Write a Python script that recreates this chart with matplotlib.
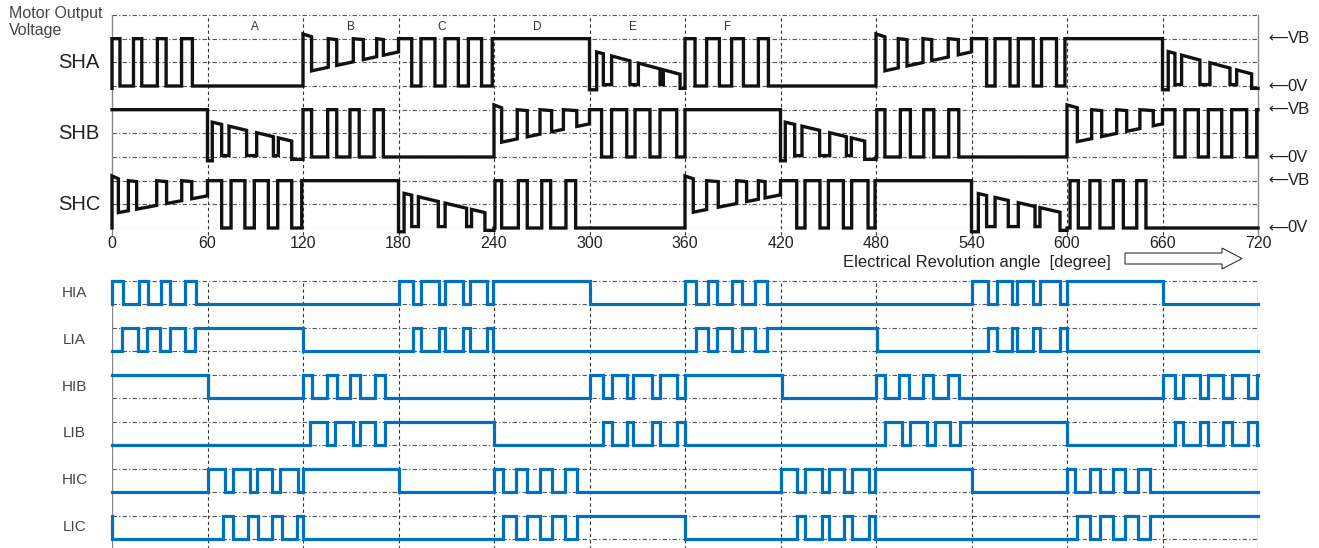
import matplotlib
matplotlib.use("Agg")
import matplotlib.pyplot as plt
from matplotlib.patches import Polygon

plt.rcParams["font.family"] = ["Liberation Sans", "DejaVu Sans"]

W, H = 1319, 548

angle_ticks = list(range(0, 721, 60))
sector_names = ["A", "B", "C", "D", "E", "F"]
sector_name_x = [90, 150, 207, 267, 327, 387]

# ---- motor output voltage, level 0 = 0V, 1 = VB ----
# kind of each 60 deg sector: P = pwm, H = VB, L = 0V, R / F = floating rising / falling
sha_kind = "PLRPHFPLRPHF"
shb_kind = "HFPLRPHFPLRP"
shc_kind = "RPHFPLRPHFPL"

# high intervals of the pwm sectors
sha_pwm = {
    0: [(0, 5), (13.5, 18.7), (28.5, 34), (43.7, 50.5)],
    180: [(180, 188.3), (194.1, 202.9), (209.2, 217.6), (223.9, 232.2), (238.9, 240)],
    360: [(360, 366.3), (373.6, 381.6), (389.3, 396.7), (406.1, 412.4)],
    540: [(540, 549.5), (554.8, 564.2), (569.4, 578.8), (584, 593.4), (598.7, 600)],
}
shb_pwm = {
    120: [(120, 125.4), (135.5, 141.2), (149.5, 155.3), (164.7, 170.5)],
    300: [(300, 307.6), (313.9, 323.4), (328.6, 338), (344.3, 354.8)],
    480: [(480.5, 485.6), (495.3, 501.6), (510, 516.3), (525.7, 532)],
    660: [(660, 667.8), (674.1, 682.5), (688.8, 697.2), (703.5, 712.9), (719.2, 720)],
}
shc_pwm = {
    60: [(60, 68.9), (74.8, 83.5), (89.4, 98.2), (104.1, 112.9), (119.2, 120)],
    240: [(240.6, 244.8), (255.3, 260.9), (270, 275.6), (285.2, 291.3)],
    420: [(420, 430.2), (435.4, 444.8), (450.1, 459.5), (464.7, 475), (479.4, 480)],
    600: [(601.9, 607.1), (614.4, 620.7), (629.1, 635.4), (643.8, 649.6)],
}

# floating sectors: pulse intervals (tops for R, bottoms for F), ramp start / end level
sha_float = {
    120: ([(120, 125.4), (135.9, 141.2), (151.6, 157.9), (166.3, 170.5)], 0.28, 0.72),
    300: ([(300, 304.5), (308.7, 313.9), (325.4, 330.7), (344.3, 346.4), (356.9, 360)], 0.76, 0.22),
    480: ([(480, 485.6), (494, 499.5), (509.5, 515), (525.4, 531.7)], 0.28, 0.72),
    660: ([(660, 663.6), (667.8, 672), (683.5, 689.8), (702.4, 706.6), (716, 720)], 0.76, 0.22),
}
shb_float = {
    60: ([(60, 63), (68.9, 73.5), (84.6, 90.9), (101.4, 104.5), (112.9, 120)], 0.76, 0.28),
    240: ([(240, 244.8), (254.6, 260.9), (268.9, 276.2), (283.6, 292)], 0.28, 0.7),
    420: ([(420, 423), (428.9, 433.5), (444.6, 450.9), (461.4, 464.5), (472.9, 480)], 0.76, 0.28),
    600: ([(600, 606.5), (615.5, 621.8), (631.2, 637.5), (645.8, 654.2)], 0.28, 0.7),
}
shc_float = {
    0: ([(0, 4), (10.3, 15.5), (28.1, 34.3), (43.8, 50.1)], 0.3, 0.68),
    180: ([(180, 183.5), (188.3, 192.5), (205, 209.3), (222.8, 225.9), (234.3, 240)], 0.76, 0.28),
    360: ([(360, 365.2), (373.6, 380.9), (392.5, 398.7), (406.1, 410.3)], 0.3, 0.7),
    540: ([(540, 544.3), (549.5, 554.8), (563.1, 569.4), (579.9, 583), (595.6, 600)], 0.76, 0.3),
}

top_names = ["SHA", "SHB", "SHC"]

# ---- gate signals: level at 0 deg and switching angles ----
gate_names = ["HIA", "LIA", "HIB", "LIB", "HIC", "LIC"]
gate_start = [1, 0, 1, 0, 0, 0]
hia_edges = [7, 16.8, 22.8, 30.6, 36.4, 45.9, 52.6, 180, 189.3, 194.1, 205.4, 209.2, 220.7,
             224.9, 235.4, 239.6, 300, 360, 366.9, 374.6, 380.3, 389.3, 396, 404, 411.7, 540,
             550.6, 555.8, 565.2, 568.4, 578.8, 583, 595.6, 599.8, 660]
lia_edges = [6.5, 16.5, 21.8, 30.2, 36.4, 45.9, 52.1, 120, 189.3, 194.1, 205.4, 209.2, 220.7,
             224.9, 235.4, 239.6, 366.9, 374.6, 380.3, 389.3, 396, 404, 411.7, 480.4, 550.6,
             555.8, 565.2, 568.4, 578.8, 583, 595.6, 599.8]
hib_edges = [60, 120, 125.4, 134.9, 141.2, 149.5, 155.8, 165.2, 171.5, 300, 308.7, 313.9, 323.4,
             327.5, 339.1, 344.3, 354.8, 360, 420.7, 480, 485.6, 494.6, 500.9, 509.7, 516, 525.4,
             532.3, 660, 667.8, 673.1, 683.5, 688.8, 698.2, 703.5, 713.9, 719.2]
lib_edges = [124.4, 134.9, 140.1, 151.6, 155.8, 165.2, 171.5, 240, 308.7, 313.9, 323.4, 327.5,
             339.1, 344.3, 354.8, 360, 485.6, 496.1, 501.3, 511.8, 517.1, 526.5, 532.8, 599.8,
             667.8, 673.1, 683.5, 688.8, 698.2, 703.5, 713.9, 719.2]
hic_edges = [60, 71, 76.2, 86.7, 90.9, 100.3, 105.5, 116.6, 120.2, 180, 240, 245.9, 253.8, 260.5,
             268.9, 276.2, 284.6, 291.9, 420, 430.5, 435.5, 446, 450.5, 460, 465, 475.8, 479.5,
             540, 600, 605, 614.4, 620.7, 629.1, 636.4, 644.8, 652]
lic_edges = [69.9, 76.2, 85.6, 91.9, 100.3, 106.6, 116, 120.2, 245.9, 253.8, 260.5, 268.9, 276.2,
             284.6, 291.9, 360, 430.5, 435.5, 446, 450.5, 460, 465, 475.8, 479.5, 606, 614.4,
             620.7, 629.1, 636.4, 644.8, 652]
gate_edges = [hia_edges, lia_edges, hib_edges, lib_edges, hic_edges, lic_edges]


def pwm_pts(t0, highs):
    pts, cur = [], t0
    for a, b in highs:
        if a > cur:
            pts += [(cur, 0), (a, 0)]
        pts += [(a, 1), (b, 1)]
        cur = b
    if cur < t0 + 60:
        pts += [(cur, 0), (t0 + 60, 0)]
    return pts


def float_pts(t0, pulses, r0, r1, rising):
    lin = lambda t: r0 + (r1 - r0) * (t - t0) / 60
    pts, cur = [], t0
    for j, (a, b) in enumerate(pulses):
        if a > cur:
            pts += [(cur, lin(cur)), (a, lin(a))]
        if rising:
            ya, yb = (1.1, 1.04) if j == 0 else (1.0, 0.98)
        else:
            ya = yb = -0.08 if j == 0 else (-0.05 if j == len(pulses) - 1 else 0.03)
        pts += [(a, ya), (b, yb)]
        cur = b
    if cur < t0 + 60:
        pts += [(cur, lin(cur)), (t0 + 60, lin(t0 + 60))]
    return pts


def build(kinds, pwm, flt):
    pts = []
    for i, k in enumerate(kinds):
        t0 = 60 * i
        if k == "H":
            pts += [(t0, 1), (t0 + 60, 1)]
        elif k == "L":
            pts += [(t0, 0), (t0 + 60, 0)]
        elif k == "P":
            pts += pwm_pts(t0, pwm[t0])
        else:
            pts += float_pts(t0, *flt[t0], rising=(k == "R"))
    pts.insert(0, (0, pts[-1][1]))
    return pts


def steps(start, edges):
    pts, lvl = [(0, start)], start
    for t in edges:
        pts += [(t, lvl), (t, 1 - lvl)]
        lvl = 1 - lvl
    pts.append((720, lvl))
    pts.insert(0, (0, lvl))
    return pts


fig = plt.figure(figsize=(W / 100, H / 100), dpi=100)

grid_kw = dict(color="#555555", lw=0.8, ls=(0, (4, 2, 1, 2)), zorder=1)
vgrid_kw = dict(color="#333333", lw=0.8, ls=(0, (3, 2.5)), zorder=1)

# ---- top panel ----
ax = fig.add_axes([112 / W, 1 - 228 / H, 1146 / W, 213 / H])
ax.set_xlim(0, 720)
ax.set_ylim(0, 9)
for s in ax.spines.values():
    s.set_visible(False)
for k in range(10):
    ax.axhline(k, **grid_kw)
for t in angle_ticks[1:-1]:
    ax.plot([t, t], [-0.3, 9], clip_on=False, **vgrid_kw)
ax.plot([0, 0], [-0.3, 9], color="#888888", lw=1, clip_on=False)
ax.plot([720, 720], [-0.3, 9], color="#888888", lw=1, clip_on=False)

tops = [build(sha_kind, sha_pwm, sha_float), build(shb_kind, shb_pwm, shb_float),
        build(shc_kind, shc_pwm, shc_float)]
for i, (name, pts) in enumerate(zip(top_names, tops)):
    base = 6 - 3 * i
    ax.plot([p[0] for p in pts], [base + 2 * p[1] for p in pts], color="#111111", lw=2.4,
            solid_joinstyle="miter", clip_on=False, zorder=3)
    ax.text(-20.7, base + 1, name, ha="center", va="center", fontsize=14.5, color="#222222")
    for lvl, txt in ((base + 2, "VB"), (base, "0V")):
        ax.text(726.3, lvl, "\u27f5", ha="left", va="center", fontsize=10, color="#222222",
                clip_on=False)
        ax.text(738.6, lvl, txt, ha="left", va="center", fontsize=12, color="#222222",
                clip_on=False)

for name, x in zip(sector_names, sector_name_x):
    ax.text(x, 8.5, name, ha="center", va="center", fontsize=8.5, color="#333333")

ax.set_yticks([])
ax.set_xticks(angle_ticks)
ax.set_xticklabels([str(t) for t in angle_ticks], fontsize=11.5, color="#222222")
ax.tick_params(axis="x", length=0, pad=6)

fig.text(9 / W, 1 - 6 / H, "Motor Output\nVoltage", ha="left", va="top", fontsize=11.5,
         color="#444444", linespacing=1.2)
fig.text(843 / W, 1 - 262 / H, "Electrical Revolution angle  [degree]", ha="left",
         va="center", fontsize=12, color="#222222")
arrow = [(1125, 253), (1222, 253), (1222, 248), (1242, 258.5), (1222, 269), (1222, 264),
         (1125, 264)]
fig.patches.append(Polygon([(x / W, 1 - y / H) for x, y in arrow], closed=True,
                           transform=fig.transFigure, facecolor="white",
                           edgecolor="#333333", lw=0.8))

# ---- bottom panel ----
bx = fig.add_axes([112 / W, 0, 1146 / W, 268 / H])
bx.set_xlim(0, 720)
bx.set_ylim(-0.384, 11.04)
for s in bx.spines.values():
    s.set_visible(False)
bx.set_xticks([])
bx.set_yticks([])
for k in range(12):
    bx.axhline(k, **grid_kw)
for t in angle_ticks[1:-1]:
    bx.plot([t, t], [-0.5, 11], **vgrid_kw)
bx.plot([0, 0], [-0.5, 11.04], color="#888888", lw=1)
bx.plot([720, 720], [-0.5, 11], color="#888888", lw=1)

for i, (name, start, edges) in enumerate(zip(gate_names, gate_start, gate_edges)):
    base = 10 - 2 * i
    pts = steps(start, edges)
    bx.plot([p[0] for p in pts], [base + p[1] for p in pts], color="#0070C0", lw=2.3,
            solid_joinstyle="miter", clip_on=False, zorder=3)
    bx.text(-23.5, base + 0.5, name, ha="center", va="center", fontsize=11, color="#444444")

fig.savefig("out.png", dpi=100)
